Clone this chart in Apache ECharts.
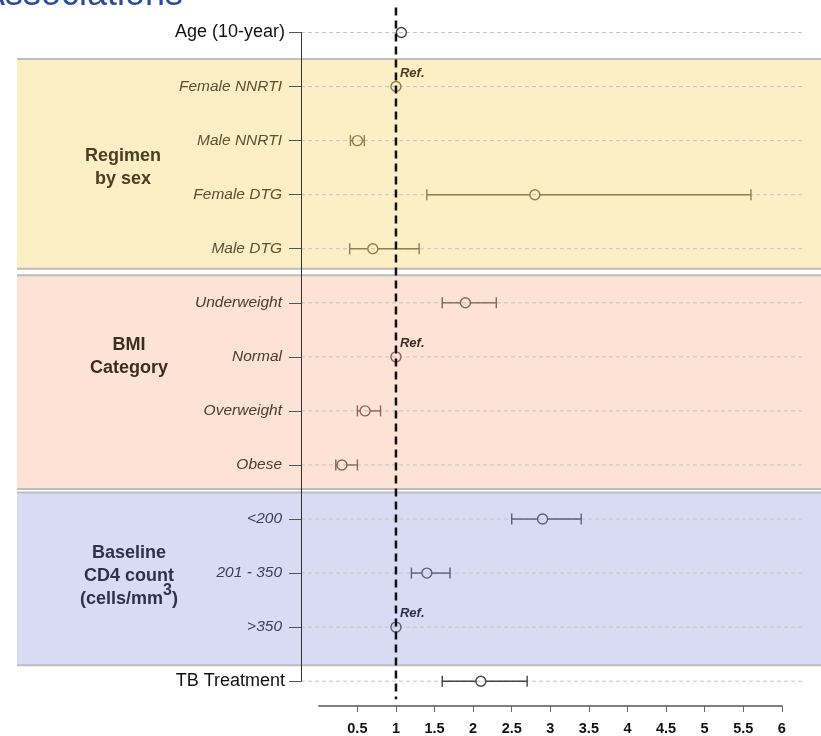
<!DOCTYPE html>
<html><head><meta charset="utf-8">
<script src="https://cdn.jsdelivr.net/npm/echarts@6/dist/echarts.min.js"></script>
<style>html,body{margin:0;padding:0;background:#fff}#c{width:821px;height:736px}</style>
</head><body><div id="c"></div>
<script>
// ---- data ----
const categories = ['Age (10-year)', 'Female NNRTI', 'Male NNRTI', 'Female DTG', 'Male DTG',
  'Underweight', 'Normal', 'Overweight', 'Obese', '<200', '201 - 350', '>350', 'TB Treatment'];
const estimates = [1.07, 1, 0.5, 2.8, 0.7, 1.9, 1, 0.6, 0.3, 2.9, 1.4, 1, 2.1];
const lowerCI   = [1.03, null, 0.41, 1.4, 0.4, 1.6, null, 0.5, 0.22, 2.5, 1.2, null, 1.6];
const upperCI   = [1.11, null, 0.59, 5.6, 1.3, 2.3, null, 0.8, 0.5, 3.4, 1.7, null, 2.7];
const isReference = [false, true, false, false, false, false, true, false, false, false, false, true, false];
const rowGroup = ['', 'reg', 'reg', 'reg', 'reg', 'bmi', 'bmi', 'bmi', 'bmi', 'cd4', 'cd4', 'cd4', ''];
const groupKeys = ['reg', 'bmi', 'cd4'];
const groupTitles = ['Regimen\nby sex', 'BMI\nCategory', 'Baseline\nCD4 count\n(cells/mm{sup|3})'];
const groupFirstRow = [1, 5, 9];
const groupLastRow = [4, 8, 11];
const groupTitleRows = [[2, 3], [6], [10]];
const xTickValues = [0.5, 1, 1.5, 2, 2.5, 3, 3.5, 4, 4.5, 5, 5.5, 6];
const referenceValue = 1;
const refLabel = 'Ref.';

// ---- layout / style ----
const FONT = 'Arial, "Liberation Sans", Helvetica, sans-serif';
const GRID_LEFT = 318.8, GRID_RIGHT = 39.2, GRID_TOP = 32.5, GRID_BOTTOM = 52.5;
const Y_AXIS_OFFSET = 17.8;
const GRIDLINE_EXTRA = 21;
const BAND_LEFT = 17;
const BAND_PAD_TOP = [27.6, 27.5, 26.6];
const BAND_PAD_BOTTOM = [20, 24, 38];
const TITLE_X = [123, 129, 129];
const TITLE_DY = [0, 0, 3];
const R = 5;
const styles = {
  reg: {fill: '#fcefc6', label: '#5b5030', title: '#4a4020', mark: '#8b7f4e'},
  bmi: {fill: '#fde3d5', label: '#4d3a30', title: '#3d2c24', mark: '#8a6656'},
  cd4: {fill: '#d9dbf5', label: '#3d3d5c', title: '#30304a', mark: '#5d5d7a'},
  '':  {label: '#111111', title: '#111111', mark: '#444444'}
};

const chart = echarts.init(document.getElementById('c'), null, {renderer: 'canvas'});

const yRich = {
  main: {fontSize: 18, color: styles[''].label, fontFamily: FONT},
  reg: {fontSize: 15.5, fontStyle: 'italic', color: styles.reg.label, fontFamily: FONT, padding: [0, 3, 0, 0]},
  bmi: {fontSize: 15.5, fontStyle: 'italic', color: styles.bmi.label, fontFamily: FONT, padding: [0, 3, 0, 0]},
  cd4: {fontSize: 15.5, fontStyle: 'italic', color: styles.cd4.label, fontFamily: FONT, padding: [0, 3, 0, 0]}
};

const option = {
  animation: false,
  backgroundColor: '#ffffff',
  grid: {left: GRID_LEFT, right: GRID_RIGHT, top: GRID_TOP, bottom: GRID_BOTTOM, containLabel: false},
  graphic: [{
    type: 'text', x: 183, y: 13,
    style: {text: 'Associations', fill: '#2b4c9b', font: '36px ' + FONT, align: 'right', verticalAlign: 'bottom'}
  }],
  xAxis: {
    type: 'value', min: 0, max: xTickValues[xTickValues.length - 1], position: 'bottom', offset: 24.8, z: 10,
    axisLine: {show: true, onZero: false, lineStyle: {color: '#555', width: 1.5}},
    axisTick: {show: true, customValues: xTickValues, length: 6, lineStyle: {color: '#666', width: 1}},
    axisLabel: {customValues: xTickValues, fontWeight: 'bold', fontSize: 14.5, color: '#111', margin: 15, fontFamily: FONT},
    splitLine: {show: false}
  },
  yAxis: {
    type: 'category', data: categories, inverse: true, boundaryGap: false, offset: Y_AXIS_OFFSET, z: 10,
    axisLine: {show: true, onZero: false, lineStyle: {color: '#333', width: 1}},
    axisTick: {show: true, interval: 0, length: 12, lineStyle: {color: '#555', width: 1}},
    axisLabel: {
      interval: 0, margin: 16,
      formatter: (v, i) => '{' + (rowGroup[i] || 'main') + '|' + v + '}',
      rich: yRich
    },
    splitLine: {show: false}
  },
  series: [
    { // background bands + group titles
      type: 'custom', z: 1, clip: false, silent: true,
      data: groupKeys.map((k, g) => [referenceValue, groupFirstRow[g], g]),
      renderItem(params, api) {
        const g = params.dataIndex;
        const st = styles[groupKeys[g]];
        const yTop = api.coord([0, groupFirstRow[g]])[1] - BAND_PAD_TOP[g];
        const yBot = api.coord([0, groupLastRow[g]])[1] + BAND_PAD_BOTTOM[g];
        const W = api.getWidth();
        const rows = groupTitleRows[g];
        const ty = rows.reduce((s, r) => s + api.coord([0, r])[1], 0) / rows.length + TITLE_DY[g];
        return {type: 'group', children: [
          {type: 'rect', shape: {x: BAND_LEFT, y: yTop, width: W - BAND_LEFT, height: yBot - yTop}, style: {fill: st.fill}},
          {type: 'line', shape: {x1: BAND_LEFT, y1: yTop, x2: W, y2: yTop}, style: {stroke: '#bdbdbd', lineWidth: 2}},
          {type: 'line', shape: {x1: BAND_LEFT, y1: yBot, x2: W, y2: yBot}, style: {stroke: '#bdbdbd', lineWidth: 2}},
          {type: 'text', x: TITLE_X[g], y: ty, style: {
            text: groupTitles[g], fill: st.title, fontSize: 18, fontWeight: 'bold', fontFamily: FONT,
            align: 'center', verticalAlign: 'middle', lineHeight: 23,
            rich: {sup: {fontSize: 16, fontWeight: 'bold', fontFamily: FONT, fill: st.title, verticalAlign: 'bottom', padding: [0, 0, 12, 0], lineHeight: 23}}
          }}
        ]};
      }
    },
    { // dashed row guide lines
      type: 'custom', z: 2, clip: false, silent: true,
      data: categories.map((c, i) => [0, i]),
      renderItem(params, api) {
        const p0 = api.coord([0, api.value(1)]);
        const p1 = api.coord([xTickValues[xTickValues.length - 1], api.value(1)]);
        return {type: 'line', shape: {x1: p0[0] - Y_AXIS_OFFSET, y1: p0[1], x2: p1[0] + GRIDLINE_EXTRA, y2: p0[1]},
          style: {stroke: '#c4c4c4', lineWidth: 1, lineDash: [4, 3]}};
      }
    },
    { // estimates with confidence intervals
      type: 'custom', z: 3, clip: false, silent: true,
      data: categories.map((c, i) => [estimates[i], i]),
      renderItem(params, api) {
        const i = params.dataIndex;
        const st = styles[rowGroup[i]];
        const c = api.coord([estimates[i], i]);
        const kids = [];
        const ls = {stroke: st.mark, lineWidth: 1.4};
        if (lowerCI[i] != null) {
          const lo = api.coord([lowerCI[i], i])[0];
          const hi = api.coord([upperCI[i], i])[0];
          if (lo < c[0] - R) {
            kids.push({type: 'line', shape: {x1: lo, y1: c[1], x2: c[0] - R, y2: c[1]}, style: ls});
            kids.push({type: 'line', shape: {x1: lo, y1: c[1] - 5.5, x2: lo, y2: c[1] + 5.5}, style: ls});
          }
          if (hi > c[0] + R) {
            kids.push({type: 'line', shape: {x1: c[0] + R, y1: c[1], x2: hi, y2: c[1]}, style: ls});
            kids.push({type: 'line', shape: {x1: hi, y1: c[1] - 5.5, x2: hi, y2: c[1] + 5.5}, style: ls});
          }
        }
        kids.push({type: 'circle', shape: {cx: c[0], cy: c[1], r: R}, style: {fill: 'none', stroke: st.mark, lineWidth: 1.4}});
        if (isReference[i]) {
          kids.push({type: 'text', x: c[0] + 4, y: c[1] - 13.5, style: {
            text: refLabel, fill: st.title, fontSize: 13, fontWeight: 'bold', fontStyle: 'italic', fontFamily: FONT,
            align: 'left', verticalAlign: 'middle'}});
        }
        return {type: 'group', children: kids};
      }
    },
    { // reference line at 1
      type: 'custom', z: 4, clip: false, silent: true,
      data: [[referenceValue, 0]],
      renderItem(params, api) {
        const t = api.coord([referenceValue, 0]);
        const b = api.coord([referenceValue, categories.length - 1]);
        return {type: 'line', shape: {x1: t[0], y1: t[1] - 25, x2: b[0], y2: b[1] + 18},
          style: {stroke: '#111', lineWidth: 2.5, lineDash: [8, 5]}};
      }
    }
  ]
};
chart.setOption(option);
</script>
</body></html>
